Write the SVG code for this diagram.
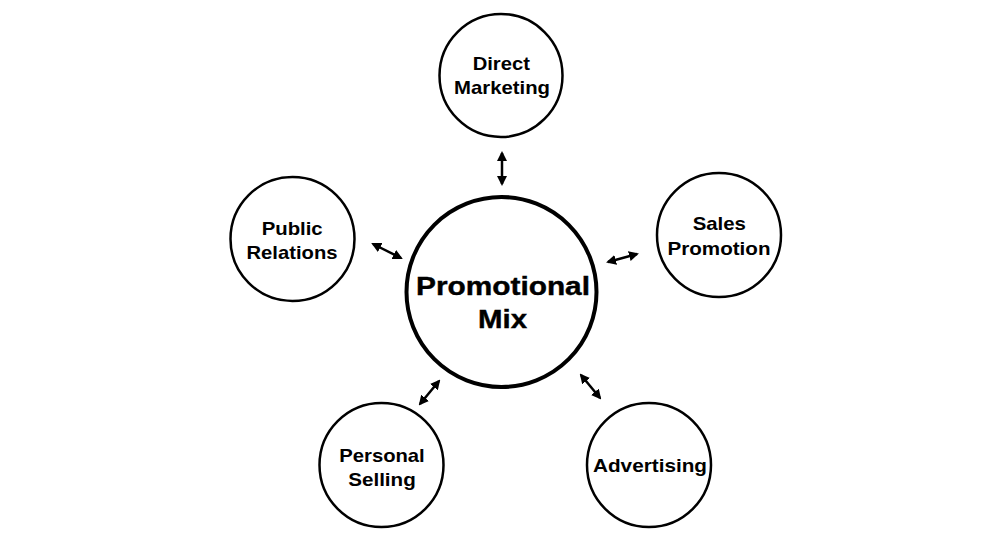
<svg xmlns="http://www.w3.org/2000/svg" width="1000" height="550" viewBox="0 0 1000 550">
<style>
.n{fill:#fff;stroke:#000;stroke-width:2.5}
.c{fill:#fff;stroke:#000;stroke-width:4}
.t{font-family:"Liberation Sans",Arial,sans-serif;font-weight:bold;font-size:19px;fill:#000;text-anchor:middle}
.tc{font-family:"Liberation Sans",Arial,sans-serif;font-weight:bold;font-size:25px;fill:#000;text-anchor:middle;stroke:#000;stroke-width:0.4}
.a{stroke:#000;stroke-width:2.5;fill:none;marker-start:url(#h);marker-end:url(#h)}
</style>
<defs>
<marker id="h" viewBox="0 0 10 10" refX="8" refY="5" markerWidth="4" markerHeight="4" orient="auto-start-reverse" markerUnits="strokeWidth">
<path d="M0,0 L10,5 L0,10 Z" fill="#000"/>
</marker>
</defs>
<rect width="1000" height="550" fill="#fff"/>
<g id="connectors">
<line class="a" x1="502" y1="153" x2="502" y2="184"/>
<line class="a" x1="373" y1="244" x2="401" y2="258"/>
<line class="a" x1="608" y1="262" x2="637" y2="254"/>
<line class="a" x1="420" y1="404" x2="439" y2="381"/>
<line class="a" x1="581" y1="375" x2="600" y2="398"/>
</g>
<g id="promotional-mix">
<circle class="c" cx="501.5" cy="292" r="95"/>
<text class="tc" x="503" y="295" textLength="174" lengthAdjust="spacingAndGlyphs">Promotional</text>
<text class="tc" x="502.5" y="328" textLength="49" lengthAdjust="spacingAndGlyphs">Mix</text>
</g>
<g id="direct-marketing">
<circle class="n" cx="501" cy="75.5" r="61.5"/>
<text class="t" x="501.3" y="70" textLength="57.3" lengthAdjust="spacingAndGlyphs">Direct</text>
<text class="t" x="502" y="94" textLength="96" lengthAdjust="spacingAndGlyphs">Marketing</text>
</g>
<g id="public-relations">
<circle class="n" cx="292.5" cy="239" r="62"/>
<text class="t" x="292.2" y="234.5" textLength="61" lengthAdjust="spacingAndGlyphs">Public</text>
<text class="t" x="292" y="258.5" textLength="91" lengthAdjust="spacingAndGlyphs">Relations</text>
</g>
<g id="sales-promotion">
<circle class="n" cx="719" cy="235" r="62"/>
<text class="t" x="719.3" y="230" textLength="53.3" lengthAdjust="spacingAndGlyphs">Sales</text>
<text class="t" x="719" y="255" textLength="103" lengthAdjust="spacingAndGlyphs">Promotion</text>
</g>
<g id="personal-selling">
<circle class="n" cx="381.5" cy="465" r="62"/>
<text class="t" x="382" y="461.5" textLength="85.5" lengthAdjust="spacingAndGlyphs">Personal</text>
<text class="t" x="382" y="485.5" textLength="67.5" lengthAdjust="spacingAndGlyphs">Selling</text>
</g>
<g id="advertising">
<circle class="n" cx="649" cy="465" r="62"/>
<text class="t" x="650" y="471.5" textLength="114" lengthAdjust="spacingAndGlyphs">Advertising</text>
</g>
</svg>
